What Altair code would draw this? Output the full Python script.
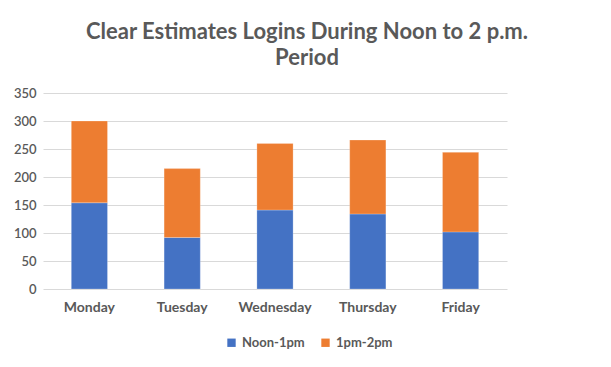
import altair as alt
import pandas as pd

days = ["Monday", "Tuesday", "Wednesday", "Thursday", "Friday"]
series = ["Noon-1pm", "1pm-2pm"]
noon_1pm = [154, 92, 141, 134, 102]
pm1_2pm = [146, 123, 119, 132, 142]
colors = ["#4472C4", "#ED7D31"]
y_ticks = [0, 50, 100, 150, 200, 250, 300, 350]

rows = []
for i, d in enumerate(days):
    rows.append({"day": d, "series": series[0], "value": noon_1pm[i], "ord": 0})
    rows.append({"day": d, "series": series[1], "value": pm1_2pm[i], "ord": 1})
df = pd.DataFrame(rows)

FONT = "Lato"
GRAY = "#595959"

chart = alt.Chart(df).mark_bar(stroke="#ffffff", strokeWidth=0.4, strokeOpacity=0.6).encode(
    x=alt.X("day:N", sort=days, title=None,
            scale=alt.Scale(paddingInner=0.61, paddingOuter=0.305),
            axis=alt.Axis(labelAngle=0, domain=False, ticks=False, labelPadding=11,
                          labelFontSize=14, labelColor=GRAY, labelFont=FONT, labelFontWeight="bold")),
    y=alt.Y("value:Q", stack="zero", title=None,
            scale=alt.Scale(domain=[0, 350], nice=False),
            axis=alt.Axis(values=y_ticks, domain=False, ticks=False, labelPadding=7,
                          labelFontSize=13, labelColor=GRAY, labelFont=FONT, labelFontWeight=600,
                          gridColor="#d9d9d9", gridWidth=1)),
    color=alt.Color("series:N", title=None,
                    scale=alt.Scale(domain=series, range=colors),
                    legend=alt.Legend(orient="none", legendX=182, legendY=243, direction="horizontal",
                                      symbolType="square", symbolSize=70, symbolStrokeWidth=0,
                                      labelFontSize=13, labelColor=GRAY, labelFont=FONT,
                                      labelFontWeight="bold", columnPadding=14, symbolOffset=0)),
    order=alt.Order("ord:Q", sort="ascending"),
).properties(
    width=464,
    height=196,
    background="white",
    title=alt.TitleParams(
        text=["Clear Estimates Logins During Noon to 2 p.m.", "Period"],
        anchor="middle", frame="group", dx=32, offset=17,
        fontSize=22, font=FONT, fontWeight="bold", color=GRAY, lineHeight=26,
    ),
    autosize=alt.AutoSizeParams(type="none"),
    padding={"left": 35, "top": 85, "right": 96, "bottom": 62},
).configure_view(stroke=None, strokeWidth=0)

chart.save("out.html", embed_options={"renderer": "svg", "actions": False})
